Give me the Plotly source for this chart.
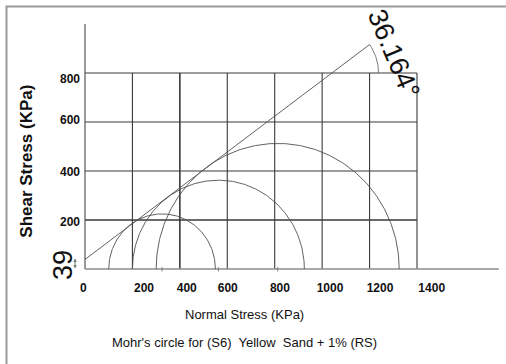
import numpy as np
import plotly.graph_objects as go

# ---- data ----
sigma3 = [100, 200, 300]          # minor principal stress (KPa)
sigma1 = [550, 925, 1325]         # major principal stress (KPa)
cohesion = 39                      # KPa
phi_deg = 36.164                   # friction angle
envelope_x = [0, 1200]
grid_x = [0, 200, 400, 600, 800, 1000, 1200, 1400]
grid_y = [0, 200, 400, 600, 800]
xtick_pos = [-7, 249, 429, 602, 822, 1033, 1244, 1462]
xtick_text = ["0", "200", "400", "600", "800", "1000", "1200", "1400"]
ytick_pos = [192, 396, 608, 775]
ytick_text = ["200", "400", "600", "800"]

FONT = "Liberation Sans, Arial, sans-serif"
GRID = "#3a3a3a"
CURVE = "#505050"

fig = go.Figure()

# grid
for gx in grid_x[1:]:
    fig.add_trace(go.Scatter(x=[gx, gx], y=[grid_y[0], grid_y[-1]], mode="lines",
                             line=dict(color=GRID, width=1.6 if gx == 400 else 1.1),
                             hoverinfo="skip", showlegend=False))
for gy in grid_y[1:]:
    fig.add_trace(go.Scatter(x=[grid_x[0], grid_x[-1]], y=[gy, gy], mode="lines",
                             line=dict(color=GRID, width=1.6 if gy == 200 else 1.1),
                             hoverinfo="skip", showlegend=False))

# axes lines
fig.add_trace(go.Scatter(x=[0, 0], y=[0, 1000], mode="lines",
                         line=dict(color="#555555", width=1.2), hoverinfo="skip", showlegend=False))
fig.add_trace(go.Scatter(x=[0, 1745], y=[0, 0], mode="lines",
                         line=dict(color="#8c8c8c", width=1.6), hoverinfo="skip", showlegend=False))

# Mohr circles
for s3, s1 in zip(sigma3, sigma1):
    c = (s1 + s3) / 2
    r = (s1 - s3) / 2
    t = np.linspace(np.pi, 0, 200)
    fig.add_trace(go.Scatter(x=c + r * np.cos(t), y=r * np.sin(t), mode="lines",
                             line=dict(color=CURVE, width=0.9), hoverinfo="skip", showlegend=False))
    fig.add_trace(go.Scatter(x=[c, c], y=[-10, 8], mode="lines",
                             line=dict(color="#777777", width=0.9), hoverinfo="skip", showlegend=False))

# failure envelope
phi = np.radians(phi_deg)
ex = np.array(envelope_x, dtype=float)
fig.add_trace(go.Scatter(x=ex, y=cohesion + np.tan(phi) * ex, mode="lines",
                         line=dict(color=CURVE, width=0.9), hoverinfo="skip", showlegend=False))

# angle arc between envelope and top grid line
xv = (grid_y[-1] - cohesion) / np.tan(phi)
rad = (envelope_x[-1] - xv) / np.cos(phi)
ta = np.linspace(0, phi, 60)
fig.add_trace(go.Scatter(x=xv + rad * np.cos(ta), y=grid_y[-1] + rad * np.sin(ta), mode="lines",
                         line=dict(color="#6a6a6a", width=0.9), hoverinfo="skip", showlegend=False))

# dimension for cohesion
fig.add_annotation(x=-42, y=cohesion + 4, ax=-42, ay=-4, xref="x", yref="y", axref="x", ayref="y",
                   showarrow=True, arrowhead=2, arrowside="end+start", arrowsize=0.7,
                   arrowwidth=1, arrowcolor="#6f7f76", text="")
fig.add_annotation(x=-93, y=16, xref="x", yref="y", text=str(cohesion), showarrow=False,
                   textangle=-90, xanchor="center", yanchor="middle",
                   font=dict(family=FONT, size=27, color="#111"))
fig.add_annotation(x=1299, y=880, xref="x", yref="y", text=f"{phi_deg}°", showarrow=False,
                   textangle=67, xanchor="center", yanchor="middle",
                   font=dict(family=FONT, size=27, color="#111"))

# titles
fig.add_annotation(x=(244 - 60) / 440, y=(275 - 314) / 251, xref="paper", yref="paper",
                   text="Normal Stress (KPa)", showarrow=False, xanchor="center", yanchor="middle",
                   font=dict(family=FONT, size=13, color="#111"))
fig.add_annotation(x=(244 - 60) / 440, y=(275 - 342) / 251, xref="paper", yref="paper",
                   text="Mohr's circle for (S6)  Yellow  Sand + 1% (RS)", showarrow=False,
                   xanchor="center", yanchor="middle",
                   font=dict(family=FONT, size=13, color="#111"))
fig.add_annotation(x=(27 - 60) / 440, y=(275 - 161.7) / 251, xref="paper", yref="paper",
                   text="<b>Shear Stress (KPa)</b>", showarrow=False, textangle=-90,
                   xanchor="center", yanchor="middle",
                   font=dict(family=FONT, size=17, color="#111"))

# frame
fig.add_shape(type="rect", xref="paper", yref="paper",
              x0=(6.5 - 60) / 440, x1=(540 - 60) / 440,
              y0=(275 - 400) / 251, y1=(275 - 6.5) / 251,
              line=dict(color="#9a9a9a", width=2))

fig.update_layout(
    width=506, height=364,
    margin=dict(l=60, r=6, t=24, b=89),
    paper_bgcolor="white", plot_bgcolor="white",
    xaxis=dict(range=[-105.4, 1750], showgrid=False, zeroline=False, showline=False,
               tickmode="array", tickvals=xtick_pos, ticktext=xtick_text, ticks="",
               ticklabelstandoff=4,
               tickfont=dict(family=FONT, size=12, color="#111", weight="bold")),
    yaxis=dict(range=[-24.5, 1000], showgrid=False, zeroline=False, showline=False,
               anchor="free", position=25 / 440,
               tickmode="array", tickvals=ytick_pos, ticktext=ytick_text, ticks="",
               ticklabelstandoff=5,
               tickfont=dict(family=FONT, size=12, color="#111", weight="bold")),
)

fig.write_html("out.html")
